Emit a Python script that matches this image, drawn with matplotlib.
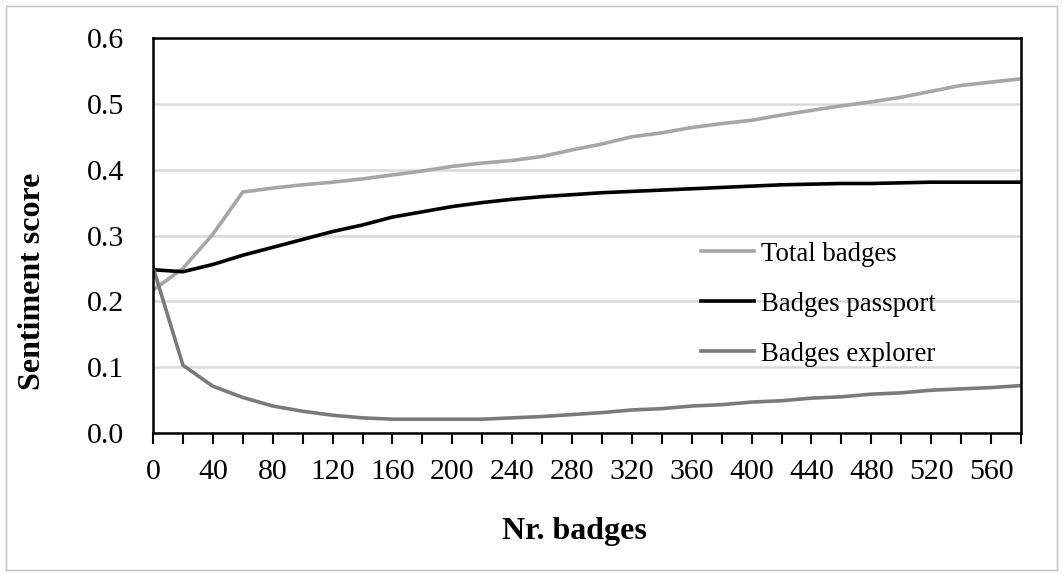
import matplotlib
matplotlib.use("Agg")
import matplotlib.pyplot as plt
from matplotlib.patches import Rectangle

nr_badges = list(range(0, 600, 20))
total_badges = [0.217, 0.250, 0.302, 0.366, 0.372, 0.377, 0.381, 0.386, 0.392, 0.398,
                0.405, 0.410, 0.414, 0.420, 0.430, 0.439, 0.450, 0.456, 0.464, 0.470,
                0.475, 0.483, 0.490, 0.497, 0.503, 0.510, 0.519, 0.528, 0.533, 0.538]
badges_passport = [0.248, 0.245, 0.256, 0.270, 0.282, 0.294, 0.306, 0.316, 0.328, 0.336,
                   0.344, 0.350, 0.355, 0.359, 0.362, 0.365, 0.367, 0.369, 0.371, 0.373,
                   0.375, 0.377, 0.378, 0.379, 0.379, 0.380, 0.381, 0.381, 0.381, 0.381]
badges_explorer = [0.252, 0.103, 0.071, 0.054, 0.041, 0.033, 0.027, 0.023, 0.021, 0.021,
                   0.021, 0.021, 0.023, 0.025, 0.028, 0.031, 0.035, 0.037, 0.041, 0.043,
                   0.047, 0.049, 0.053, 0.055, 0.059, 0.061, 0.065, 0.067, 0.069, 0.072]
x_tick_labels = [str(v) for v in range(0, 600, 40)]
y_tick_labels = ["0.0", "0.1", "0.2", "0.3", "0.4", "0.5", "0.6"]

plt.rcParams['font.family'] = ['Liberation Serif', 'DejaVu Serif']

fig = plt.figure(figsize=(10.63, 5.74), dpi=100)
ax = fig.add_axes([153/1063, 1 - 433/574, (1021-153)/1063, (433-38)/574])

ax.plot(nr_badges, total_badges, color="#a6a6a6", lw=2.6, label="Total badges")
ax.plot(nr_badges, badges_passport, color="#000000", lw=2.6, label="Badges passport")
ax.plot(nr_badges, badges_explorer, color="#7a7a7a", lw=2.6, label="Badges explorer")

ax.set_xlim(0, 580)
ax.set_ylim(0, 0.6)
ax.set_yticks([i/10 for i in range(7)])
ax.set_yticklabels(y_tick_labels)
ax.set_xticks(range(0, 600, 20), minor=True)
ax.set_xticks(range(0, 600, 40))
ax.set_xticklabels(x_tick_labels)
ax.tick_params(axis='x', which='both', direction='out', length=8, width=1.5, labelsize=21.5, pad=11)
ax.tick_params(axis='y', length=0, labelsize=21.5, pad=21)
ax.grid(axis='y', color="#d9d9d9", lw=1.8)
ax.set_axisbelow(True)
for s in ax.spines.values():
    s.set_linewidth(1.8)
    s.set_color("black")

ax.set_ylabel("Sentiment score", fontsize=23, fontweight='bold')
ax.set_xlabel("Nr. badges", fontsize=23, fontweight='bold')
ax.yaxis.set_label_coords(-0.122, 0.385)
ax.xaxis.set_label_coords(0.486, -0.213)

leg = ax.legend(loc='upper left', bbox_to_anchor=(0.604, 0.545), frameon=False,
                fontsize=19.3, handlelength=1.98, labelspacing=0.93, handletextpad=0.26)

fig.patches.append(Rectangle((6/1063, 4/574), 1 - 12/1063, 1 - 10/574, transform=fig.transFigure,
                             fill=False, edgecolor="#bfbfbf", lw=1.0))

fig.savefig("out.png", dpi=100)
